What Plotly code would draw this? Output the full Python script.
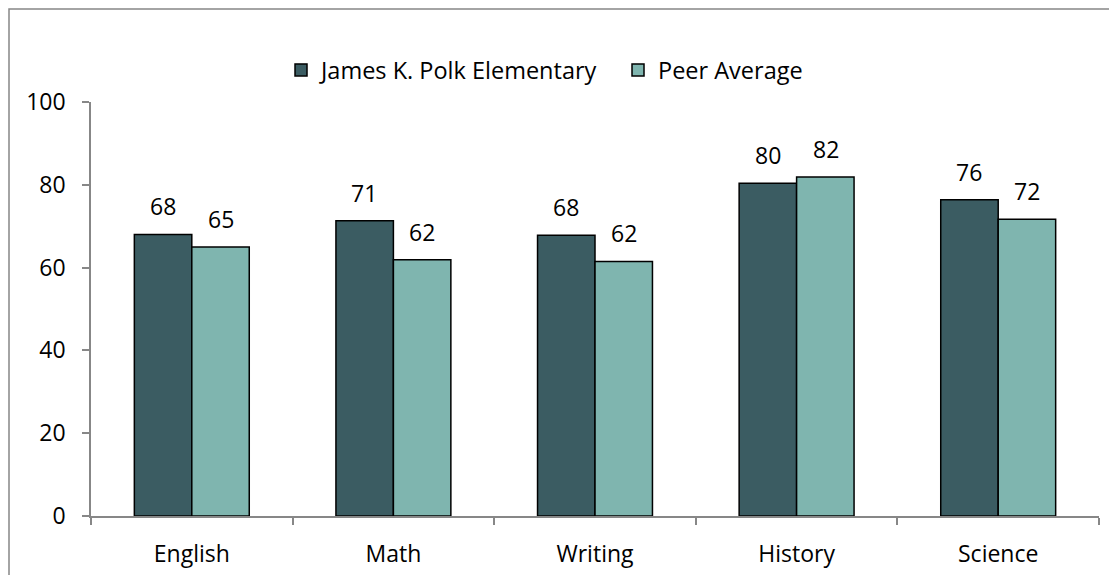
import plotly.graph_objects as go

categories = ["English", "Math", "Writing", "History", "Science"]
polk_values = [68.0, 71.3, 67.8, 80.4, 76.4]
peer_values = [65.0, 61.9, 61.5, 81.9, 71.7]
series_names = ["James K. Polk Elementary", "Peer Average"]
y_ticks = [0, 20, 40, 60, 80, 100]

DARK = "#3B5C62"
LIGHT = "#7FB5AF"
AXIS = "#878787"
FONT = "Open Sans"

ML, MR, MT, MB = 83, 26, 94, 67
PW = 1117 - ML - MR
PH = 575 - MT - MB

fig = go.Figure()
fig.add_trace(go.Bar(x=categories, y=polk_values, name=series_names[0],
                     marker=dict(color=DARK, line=dict(color="black", width=1.5))))
fig.add_trace(go.Bar(x=categories, y=peer_values, name=series_names[1],
                     marker=dict(color=LIGHT, line=dict(color="black", width=1.5))))

# value labels above bars
for vals, shift in ((polk_values, -29), (peer_values, 29)):
    for c, v in zip(categories, vals):
        fig.add_annotation(x=c, y=v, text=f"{v:.0f}", showarrow=False,
                           xshift=shift, yshift=10, yanchor="bottom",
                           font=dict(family=FONT, size=23, color="black"))

# outer chart frame (at figure edge)
fig.add_shape(type="rect", xref="paper", yref="paper",
              x0=(-ML + 1) / PW, x1=(PW + MR + 40) / PW,
              y0=-(MB + 40) / PH, y1=(PH + MT - 1) / PH,
              line=dict(color=AXIS, width=1.5), layer="below")

fig.update_layout(
    width=1117, height=575,
    margin=dict(l=ML, r=MR, t=MT, b=MB),
    paper_bgcolor="white", plot_bgcolor="white",
    barmode="group", bargap=0.43, bargroupgap=0,
    font=dict(family=FONT, size=23, color="black"),
    showlegend=True,
    legend=dict(orientation="h", x=0.1885, xanchor="left", y=1.077, yanchor="middle",
                font=dict(family=FONT, size=23.5), bgcolor="rgba(0,0,0,0)",
                entrywidth=292, entrywidthmode="pixels"),
    xaxis=dict(showline=True, linecolor=AXIS, linewidth=1.5, ticks="outside",
               tickson="boundaries", ticklen=7, tickcolor=AXIS, tickwidth=1.5,
               showgrid=False, ticklabelstandoff=17, zeroline=False),
    yaxis=dict(range=[0, 100], tickvals=y_ticks, showline=True, linecolor=AXIS,
               linewidth=1.5, ticks="outside", ticklen=7, tickcolor=AXIS, tickwidth=1.5,
               showgrid=False, zeroline=False, ticklabelstandoff=12),
)

fig.write_html("out.html")
